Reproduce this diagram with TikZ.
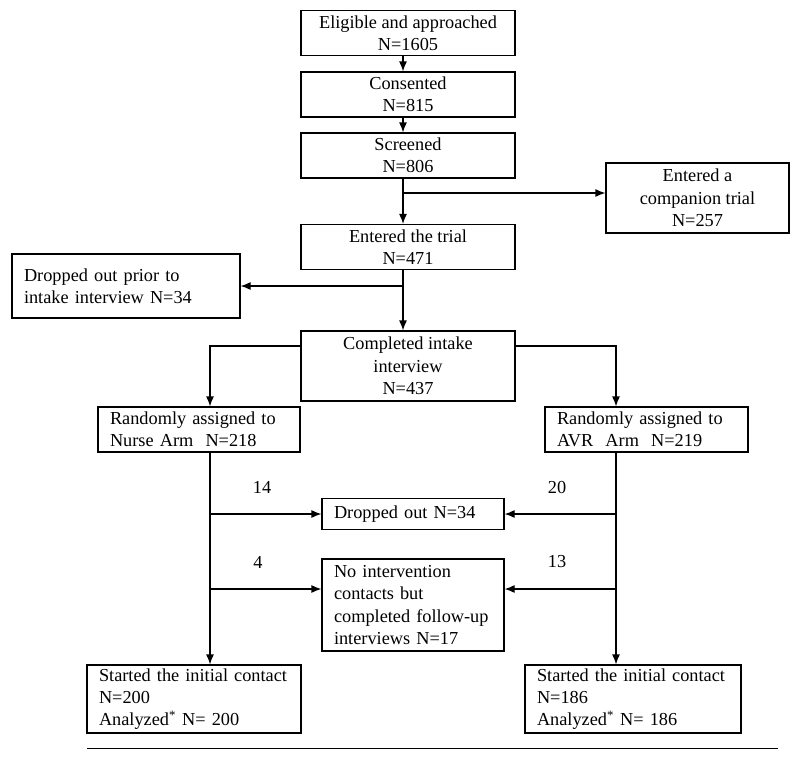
\documentclass[tikz,border=0pt]{standalone}
\usepackage{fontspec}
\setmainfont{Liberation Serif}
\usetikzlibrary{arrows.meta, positioning}

\begin{document}
\begin{tikzpicture}[x=1pt, y=-1pt, line width=1.2pt, >={Latex[length=10pt, width=8pt]}]
  \tikzstyle{box}=[draw, inner xsep=12pt, inner ysep=2pt, font=\fontsize{18.3}{22.3}\selectfont]
  \tikzstyle{cbox}=[box, align=center, minimum width=214pt, minimum height=45pt]
  \tikzstyle{lbox}=[box, align=left]
  \tikzstyle{count}=[font=\fontsize{18.3}{22.3}\selectfont]

  \useasboundingbox (0,0) rectangle (800,764);
  \coordinate (spine) at (403,0);
  \coordinate (lleg) at (210,0);
  \coordinate (rleg) at (616,0);

  \node[cbox]                                      (elig)   at (408,33)  {Eligible and approached\\N=1605};
  \node[cbox, node distance=61.5pt]                (cons)   [below of=elig] {Consented\\N=815};
  \node[cbox, node distance=61pt]                  (scr)    [below of=cons] {Screened\\N=806};
  \node[cbox, node distance=91.5pt]                (trial)  [below of=scr] {Entered the trial\\N=471};
  \node[cbox, node distance=119pt, minimum height=70pt] (intake) [below of=trial] {Completed intake\\interview\\N=437};
  \node[cbox, minimum width=183pt, minimum height=70pt] (comp) at (697.5,198) {Entered a\\companion trial\\N=257};
  \node[lbox, text width=204pt, minimum height=64pt] (prior)  at (126,286)   {Dropped out prior to\\intake interview N=34};
  \node[lbox, text width=178pt, minimum height=45pt] (nurse)  at (199,429.5) {Randomly assigned to\\Nurse Arm~~N=218};
  \node[lbox, text width=179pt, minimum height=45pt] (avr)    at (646.5,429.5) {Randomly assigned to\\AVR~~Arm~~N=219};
  \node[lbox, text width=158pt, minimum height=31pt] (drop)   at (413,514)   {Dropped out N=34};
  \node[lbox, text width=158pt, minimum height=92pt] (nocont) at (413,605)   {No intervention\\contacts but\\completed follow-up\\interviews N=17};
  \node[lbox, text width=190pt, minimum height=68pt] (start1) at (194,699)   {Started the initial contact\\N=200\\Analyzed\textsuperscript{*} N= 200};
  \node[lbox, text width=192pt, minimum height=68pt] (start2) at (633,699)   {Started the initial contact\\N=186\\Analyzed\textsuperscript{*} N= 186};

  \node[count] (n14) at (262,487) {14};
  \node[count] (n20) at (557,487) {20};
  \node[count] (n4)  at (258,562) {4};
  \node[count] (n13) at (557,562) {13};

  \coordinate (compin) at ([yshift=5pt]comp.west);
  \coordinate (intl) at ([yshift=20pt]intake.west);
  \coordinate (intr) at ([yshift=20pt]intake.east);
  \coordinate (ncl) at ([yshift=16pt]nocont.west);
  \coordinate (ncr) at ([yshift=16pt]nocont.east);

  \draw[->] (elig.south -| spine) -- (cons.north -| spine);
  \draw[->] (cons.south -| spine) -- (scr.north -| spine);
  \draw[->] (scr.south -| spine) -- (trial.north -| spine);
  \draw[->] (compin -| spine) -- (compin);
  \draw[->] (trial.south -| spine) -- (intake.north -| spine);
  \draw[->] (prior.east -| spine) -- (prior.east);
  \draw[->] (intl) -| (nurse.north -| lleg);
  \draw[->] (intr) -| (avr.north -| rleg);
  \draw[->] (nurse.south -| lleg) -- (start1.north -| lleg);
  \draw[->] (avr.south -| rleg) -- (start2.north -| rleg);
  \draw[->] (drop.west -| lleg) -- (drop.west);
  \draw[->] (drop.east -| rleg) -- (drop.east);
  \draw[->] (ncl -| lleg) -- (ncl);
  \draw[->] (ncr -| rleg) -- (ncr);

  \draw[line width=1pt] (87,748) -- (778,748);
\end{tikzpicture}
\end{document}
